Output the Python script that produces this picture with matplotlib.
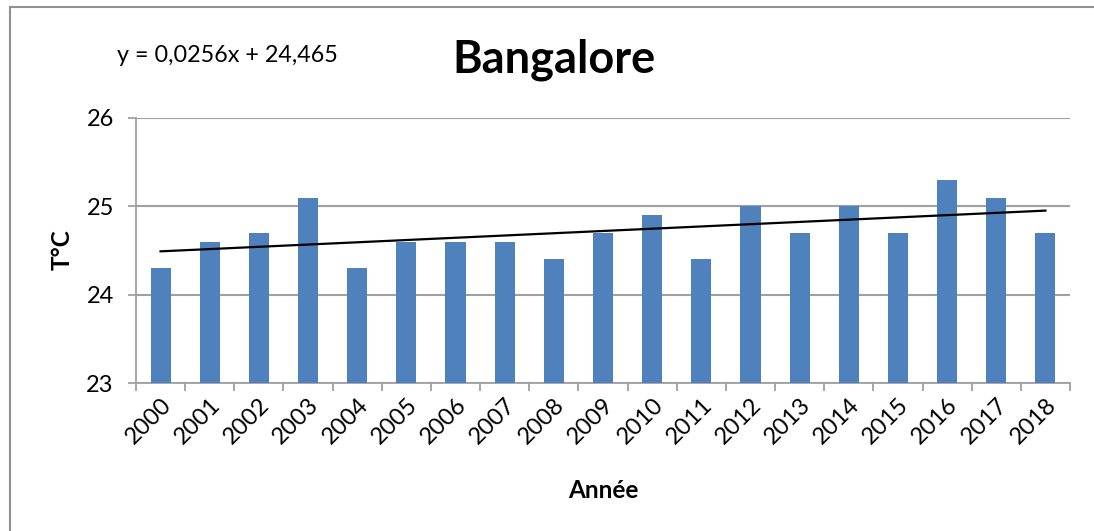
import numpy as np
import matplotlib.pyplot as plt
from matplotlib.lines import Line2D

plt.rcParams['font.family'] = ['Lato', 'DejaVu Sans']

years = [str(y) for y in range(2000, 2019)]
temps = [24.3, 24.6, 24.7, 25.1, 24.3, 24.6, 24.6, 24.6, 24.4, 24.7,
         24.9, 24.4, 25.0, 24.7, 25.0, 24.7, 25.3, 25.1, 24.7]
y_ticks = [23, 24, 25, 26]
equation = "y = 0,0256x + 24,465"

fig = plt.figure(figsize=(10.94, 5.31), dpi=100)
ax = fig.add_axes([136 / 1094, 1 - 383 / 531, (1070 - 136) / 1094, (383 - 118) / 531])

x = np.arange(len(years))
ax.bar(x, temps, width=0.41, color='#4F81BD', zorder=3)

# linear trend, x counted from 1 like Excel
xs = np.arange(1, len(years) + 1)
slope, intercept = np.polyfit(xs, temps, 1)
ax.plot(x, slope * xs + intercept, color='black', linewidth=1.6, zorder=4)

ax.set_xlim(-0.5, len(years) - 0.5)
ax.set_ylim(23, 26)
ax.set_yticks(y_ticks)
ax.set_yticklabels([str(t) for t in y_ticks], fontsize=17)
ax.set_xticks(np.arange(len(years) + 1) - 0.5, minor=False)
ax.set_xticklabels([])
ax.set_xticks(x, minor=True)
ax.set_xticklabels(years, minor=True, rotation=45, ha='right',
                   rotation_mode='anchor', fontsize=17)
ax.tick_params(axis='x', which='minor', length=0, pad=8)
ax.tick_params(axis='x', which='major', length=6, width=1.3, color='#A0A0A0')
ax.tick_params(axis='y', length=6, width=1.3, color='#A0A0A0', pad=10)

ax.grid(axis='y', color='#A0A0A0', linewidth=1.5, zorder=0)
for side in ['top', 'right']:
    ax.spines[side].set_visible(False)
for side in ['left', 'bottom']:
    ax.spines[side].set_color('#A0A0A0')
    ax.spines[side].set_linewidth(1.3)

fig.text(554 / 1094, 1 - 60 / 531, "Bangalore", fontsize=32.5, fontweight='bold',
         ha='center', va='center')
fig.text(227 / 1094, 1 - 55 / 531, equation, fontsize=16.8, ha='center', va='center')
fig.text(62 / 1094, 1 - 250 / 531, "T°C", fontsize=17.5, fontweight='bold',
         rotation=90, ha='center', va='center')
fig.text(603 / 1094, 1 - 490 / 531, "Année", fontsize=17.5, fontweight='bold',
         ha='center', va='center')

# chart area border
fig.add_artist(Line2D([10 / 1094, 1], [1 - 7 / 531, 1 - 7 / 531],
                      color='#909090', linewidth=1.5))
fig.add_artist(Line2D([10 / 1094, 10 / 1094], [0, 1 - 7 / 531],
                      color='#909090', linewidth=1.5))

fig.savefig('out.png', dpi=100)
